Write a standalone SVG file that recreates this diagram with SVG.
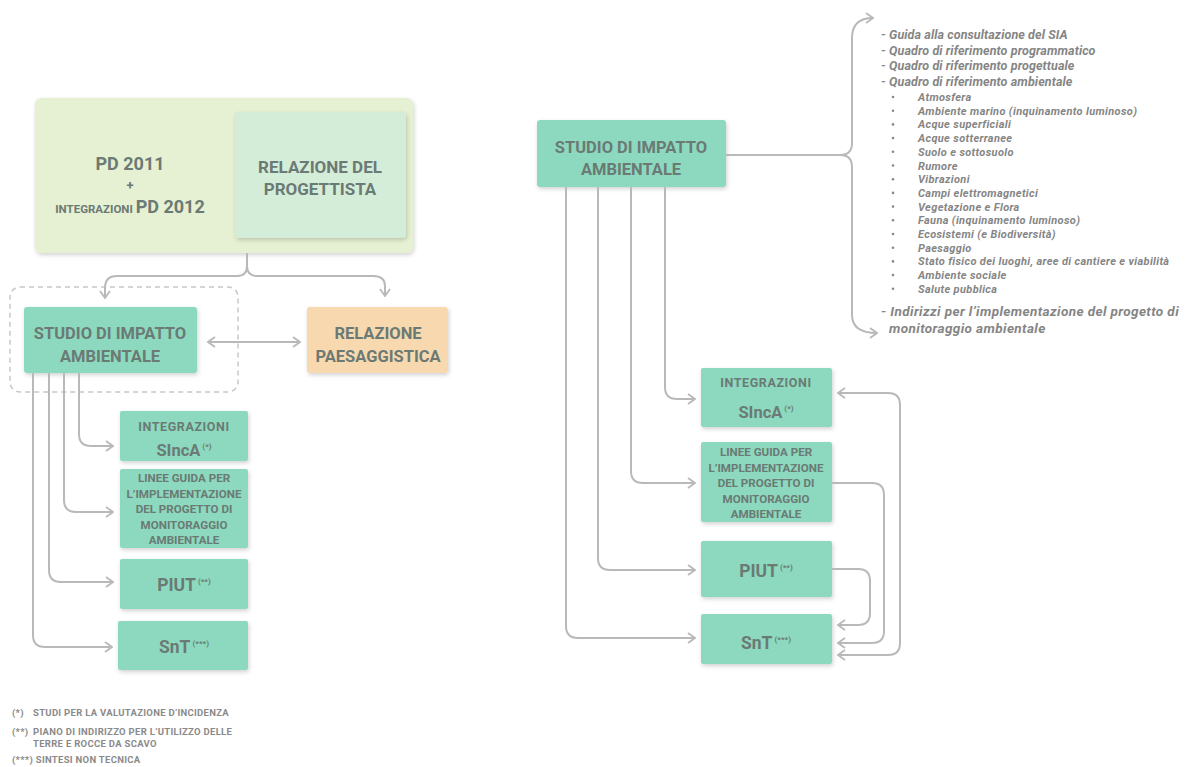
<svg xmlns="http://www.w3.org/2000/svg" width="1188" height="767" viewBox="0 0 1188 767">
<style>
.box{fill:#8cd9bf;filter:url(#sh)}
.bt{font-family:Roboto,"Liberation Sans",sans-serif;font-weight:700;fill:#6b7a74;text-anchor:middle}
.con{fill:none;stroke:#b9b9b9;stroke-width:2}
.arr{marker-end:url(#ch)}
.li{font-family:Roboto,"Liberation Sans",sans-serif;font-weight:700;font-style:italic;fill:#858585}
.fn{font-family:Roboto,"Liberation Sans",sans-serif;font-weight:700;fill:#8a8a8a;font-size:9.5px;letter-spacing:0.3px}
.sm{font-size:12.5px;letter-spacing:0.6px}
.ln{font-size:11.6px}
</style>
<defs>
<filter id="sh" x="-10%" y="-10%" width="125%" height="130%">
<feDropShadow dx="1" dy="2" stdDeviation="2" flood-color="#000" flood-opacity="0.18"/>
</filter>
<marker id="ch" viewBox="0 0 10 12" refX="9" refY="6" markerWidth="10" markerHeight="12" markerUnits="userSpaceOnUse" orient="auto-start-reverse">
<path d="M2,1 L9,6 L2,11" fill="none" stroke="#b9b9b9" stroke-width="1.8"/>
</marker>
</defs>
<rect width="1188" height="767" fill="#fff"/>

<!-- LEFT -->
<g id="pd">
<rect x="35" y="98" width="378" height="155" rx="6" fill="#e6f0d2" filter="url(#sh)"/>
<text class="bt" x="130" y="170" font-size="18">PD 2011</text>
<text class="bt" x="130" y="190" font-size="13">+</text>
<text class="bt" x="130" y="213" font-size="18"><tspan font-size="11.5">INTEGRAZIONI </tspan>PD 2012</text>
</g>
<g id="relprog">
<rect x="235" y="112" width="171" height="126" rx="4" fill="#d4edd9" filter="url(#sh)"/>
<text class="bt" x="320" y="173" font-size="17">RELAZIONE DEL</text>
<text class="bt" x="320" y="195" font-size="17">PROGETTISTA</text>
</g>
<g id="dashed">
<rect x="10" y="287" width="228" height="105" rx="10" fill="none" stroke="#c8c8c8" stroke-width="1.5" stroke-dasharray="5,4"/>
</g>
<g id="sia1">
<rect class="box" x="24" y="307" width="173" height="66" rx="3"/>
<text class="bt" x="110" y="339" font-size="16.5">STUDIO DI IMPATTO</text>
<text class="bt" x="110" y="362" font-size="16.5">AMBIENTALE</text>
</g>
<g id="paes">
<rect x="307" y="307" width="141" height="66" rx="3" fill="#f8d8ae" filter="url(#sh)"/>
<text class="bt" x="378" y="339" font-size="16.5">RELAZIONE</text>
<text class="bt" x="378" y="362" font-size="16.5">PAESAGGISTICA</text>
</g>
<g id="sinca1">
<rect class="box" x="120" y="411" width="128" height="50" rx="2"/>
<text class="bt sm" x="184" y="431">INTEGRAZIONI</text>
<text class="bt" x="184" y="456" font-size="16.5">SIncA<tspan font-size="8" dy="-7"> (*)</tspan></text>
</g>
<g id="linee1">
<rect class="box" x="120" y="469" width="128" height="79" rx="2"/>
<text class="bt ln" x="184" y="482">LINEE GUIDA PER</text>
<text class="bt ln" x="184" y="497.5">L’IMPLEMENTAZIONE</text>
<text class="bt ln" x="184" y="513">DEL PROGETTO DI</text>
<text class="bt ln" x="184" y="528.5">MONITORAGGIO</text>
<text class="bt ln" x="184" y="544">AMBIENTALE</text>
</g>
<g id="piut1">
<rect class="box" x="120" y="559" width="128" height="50" rx="2"/>
<text class="bt" x="184" y="591" font-size="17.5">PIUT<tspan font-size="8" dy="-7"> (**)</tspan></text>
</g>
<g id="snt1">
<rect class="box" x="118" y="621" width="130" height="49" rx="2"/>
<text class="bt" x="184" y="653" font-size="17.5">SnT<tspan font-size="8" dy="-7"> (***)</tspan></text>
</g>

<!-- RIGHT -->
<g id="sia2">
<rect class="box" x="537" y="120" width="189" height="67" rx="3"/>
<text class="bt" x="631" y="153" font-size="16.5">STUDIO DI IMPATTO</text>
<text class="bt" x="631" y="175" font-size="16.5">AMBIENTALE</text>
</g>
<g id="sinca2">
<rect class="box" x="701" y="368" width="131" height="59" rx="2"/>
<text class="bt sm" x="766" y="387">INTEGRAZIONI</text>
<text class="bt" x="766" y="418" font-size="16.5">SIncA<tspan font-size="8" dy="-7"> (*)</tspan></text>
</g>
<g id="linee2">
<rect class="box" x="701" y="442" width="131" height="80" rx="2"/>
<text class="bt ln" x="766" y="456">LINEE GUIDA PER</text>
<text class="bt ln" x="766" y="472">L’IMPLEMENTAZIONE</text>
<text class="bt ln" x="766" y="487">DEL PROGETTO DI</text>
<text class="bt ln" x="766" y="503">MONITORAGGIO</text>
<text class="bt ln" x="766" y="518">AMBIENTALE</text>
</g>
<g id="piut2">
<rect class="box" x="701" y="541" width="131" height="56" rx="2"/>
<text class="bt" x="766" y="577" font-size="17.5">PIUT<tspan font-size="8" dy="-7"> (**)</tspan></text>
</g>
<g id="snt2">
<rect class="box" x="701" y="614" width="131" height="50" rx="2"/>
<text class="bt" x="766" y="649" font-size="17.5">SnT<tspan font-size="8" dy="-7"> (***)</tspan></text>
</g>

<g id="list">
<g font-size="12.5" letter-spacing="0.1">
<text class="li" x="881" y="39">- Guida alla consultazione del SIA</text>
<text class="li" x="881" y="55">- Quadro di riferimento programmatico</text>
<text class="li" x="881" y="70">- Quadro di riferimento progettuale</text>
<text class="li" x="881" y="86">- Quadro di riferimento ambientale</text>
</g>
<g font-size="11" letter-spacing="0.35">
<text class="li" x="918" y="101">Atmosfera</text>
<text class="li" x="918" y="114.7">Ambiente marino (inquinamento luminoso)</text>
<text class="li" x="918" y="128.4">Acque superficiali</text>
<text class="li" x="918" y="142.1">Acque sotterranee</text>
<text class="li" x="918" y="155.8">Suolo e sottosuolo</text>
<text class="li" x="918" y="169.5">Rumore</text>
<text class="li" x="918" y="183.2">Vibrazioni</text>
<text class="li" x="918" y="196.9">Campi elettromagnetici</text>
<text class="li" x="918" y="210.6">Vegetazione e Flora</text>
<text class="li" x="918" y="224.3">Fauna (inquinamento luminoso)</text>
<text class="li" x="918" y="238">Ecosistemi (e Biodiversità)</text>
<text class="li" x="918" y="251.7">Paesaggio</text>
<text class="li" x="918" y="265.4">Stato fisico dei luoghi, aree di cantiere e viabilità</text>
<text class="li" x="918" y="279.1">Ambiente sociale</text>
<text class="li" x="918" y="292.8">Salute pubblica</text>
</g>
<g fill="#8a8a8a">
<circle cx="893" cy="97" r="1.3"/><circle cx="893" cy="110.7" r="1.3"/><circle cx="893" cy="124.4" r="1.3"/><circle cx="893" cy="138.1" r="1.3"/><circle cx="893" cy="151.8" r="1.3"/><circle cx="893" cy="165.5" r="1.3"/><circle cx="893" cy="179.2" r="1.3"/><circle cx="893" cy="192.9" r="1.3"/><circle cx="893" cy="206.6" r="1.3"/><circle cx="893" cy="220.3" r="1.3"/><circle cx="893" cy="234" r="1.3"/><circle cx="893" cy="247.7" r="1.3"/><circle cx="893" cy="261.4" r="1.3"/><circle cx="893" cy="275.1" r="1.3"/><circle cx="893" cy="288.8" r="1.3"/>
</g>
<g font-size="13.5" letter-spacing="0.4">
<text class="li" x="881" y="316">- Indirizzi per l’implementazione del progetto di</text>
<text class="li" x="889" y="333">monitoraggio ambientale</text>
</g>
</g>

<g id="notes">
<text class="fn" x="12" y="716">(*)</text><text class="fn" x="33" y="716">STUDI PER LA VALUTAZIONE D’INCIDENZA</text>
<text class="fn" x="12" y="735">(**)</text><text class="fn" x="33" y="735">PIANO DI INDIRIZZO PER L’UTILIZZO DELLE</text>
<text class="fn" x="33" y="747">TERRE E ROCCE DA SCAVO</text>
<text class="fn" x="12" y="763">(***) SINTESI NON TECNICA</text>
</g>

<g id="connectors">
<path class="con arr" d="M247,253 V266 Q247,276 237,276 H117 Q105,276 105,288 V298"/>
<path class="con arr" d="M247,266 Q247,276 257,276 H373 Q385,276 385,286 V296"/>
<path class="con arr" d="M208,342 H300" marker-start="url(#ch)"/>
<path class="con arr" d="M79,373 V434 Q79,446 91,446 H113"/>
<path class="con arr" d="M64,373 V500 Q64,512 76,512 H113"/>
<path class="con arr" d="M49,373 V570 Q49,582 61,582 H113"/>
<path class="con arr" d="M33,373 V635 Q33,647 45,647 H112"/>

<path class="con arr" d="M726,155 H840 Q852,155 852,143 V38 Q852,18 873,18"/>
<path class="con arr" d="M840,155 Q852,155 852,167 V315 Q852,333 877,333"/>
<path class="con arr" d="M665,187 V387 Q665,399 677,399 H695"/>
<path class="con arr" d="M631,187 V471 Q631,483 643,483 H695"/>
<path class="con arr" d="M598,187 V558 Q598,570 610,570 H695"/>
<path class="con arr" d="M566,187 V626 Q566,638 578,638 H695"/>
<path class="con arr" d="M832,569 H858 Q870,569 870,581 V613 Q870,625 858,625 H838"/>
<path class="con arr" d="M832,483 H872 Q884,483 884,495 V631 Q884,643 872,643 H838"/>
<path class="con arr" d="M838,655 H888 Q900,655 900,643 V405 Q900,393 888,393 H838" marker-start="url(#ch)"/>
</g>
</svg>
